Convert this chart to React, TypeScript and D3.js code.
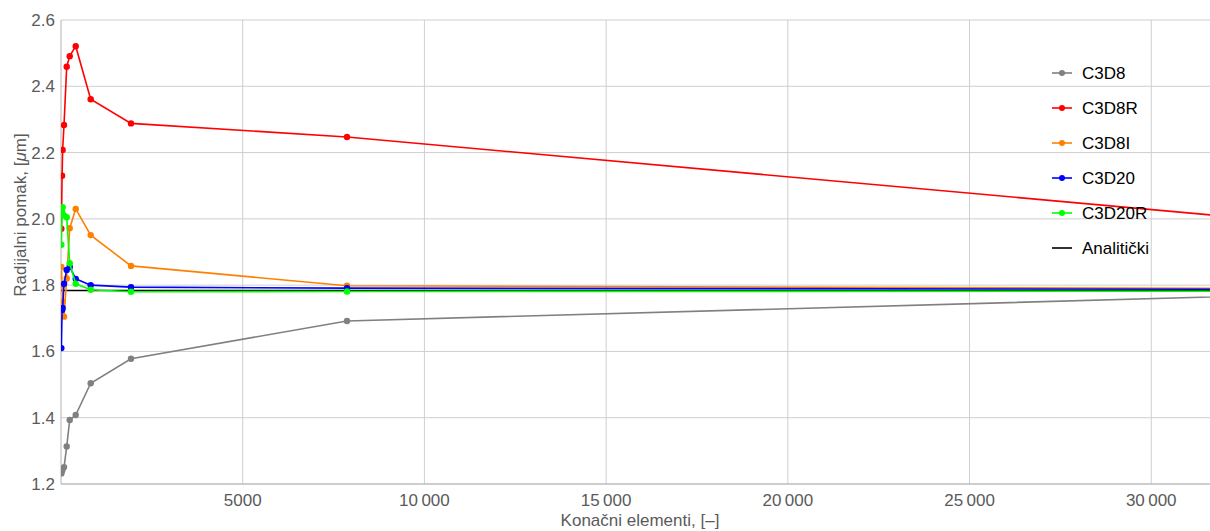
import React from "react";
import * as d3 from "d3";

const elements = [10, 30, 45, 83, 157, 240, 405, 817, 1926, 7870, 50000];

const c3d8 = [1.232, 1.24, 1.245, 1.251, 1.313, 1.393, 1.408, 1.504, 1.578, 1.692, 1.82];
const c3d8r = [1.97, 2.13, 2.208, 2.283, 2.459, 2.491, 2.521, 2.361, 2.288, 2.247, 1.83];
const c3d8i = [1.855, 1.8, 1.75, 1.705, 1.82, 1.972, 2.03, 1.951, 1.858, 1.798, 1.784];
const c3d20 = [1.61, 1.725, 1.731, 1.804, 1.846, 1.855, 1.819, 1.8, 1.794, 1.791, 1.785];
const c3d20r = [1.922, 2.02, 2.035, 2.01, 2.005, 1.866, 1.804, 1.786, 1.78, 1.781, 1.782];
const analyticX = [0, 50000];
const analyticY = [1.784, 1.784];

const seriesNames = ["C3D8", "C3D8R", "C3D8I", "C3D20", "C3D20R"];
const seriesValues = [c3d8, c3d8r, c3d8i, c3d20, c3d20r];
const seriesColors = ["#808080", "#ff0000", "#ff8000", "#0000ff", "#00ff00"];
const analyticName = "Analitički";

const xTicks = [5000, 10000, 15000, 20000, 25000, 30000];
const yTicks = [1.2, 1.4, 1.6, 1.8, 2.0, 2.2, 2.4, 2.6];

const W = 1210;
const H = 531;
const left = 61;
const right = 1210;
const top = 20;
const bottom = 484;

export default function App() {
  const x = d3.scaleLinear().domain([0, 31617]).range([left, right]);
  const y = d3.scaleLinear().domain([1.2, 2.6]).range([bottom, top]);
  const line = d3
    .line<[number, number]>()
    .x((d) => x(d[0]))
    .y((d) => y(d[1]));
  const fmtX = (d: number) =>
    d >= 10000 ? d3.format(",")(d).replace(",", "\u2009") : String(d);
  const fmtY = d3.format(".1f");
  const font = "'Liberation Sans', Arial, sans-serif";
  const tickColor = "#5a5a5a";

  return (
    <svg
      width={W}
      height={H}
      style={{ position: "fixed", left: 0, top: 0, background: "#fff" }}
      fontFamily={font}
    >
      <defs>
        <clipPath id="plotclip">
          <rect x={left} y={0} width={right - left} height={bottom} />
        </clipPath>
      </defs>
      {xTicks.map((t) => (
        <line key={"gx" + t} x1={x(t)} x2={x(t)} y1={top} y2={bottom} stroke="#cfcfcf" strokeWidth={1} />
      ))}
      {yTicks.map((t) => (
        <line key={"gy" + t} x1={left} x2={right} y1={y(t)} y2={y(t)} stroke="#cfcfcf" strokeWidth={1} />
      ))}
      <line x1={left} x2={left} y1={top} y2={bottom} stroke="#b4b4b4" strokeWidth={1} />
      <line x1={left} x2={right} y1={bottom} y2={bottom} stroke="#b4b4b4" strokeWidth={1} />
      {yTicks.map((t) => (
        <text key={"ty" + t} x={left - 6} y={y(t)} dy="0.35em" textAnchor="end" fontSize={17} fill={tickColor}>
          {fmtY(t)}
        </text>
      ))}
      {xTicks.map((t) => (
        <text key={"tx" + t} x={x(t)} y={bottom + 22} textAnchor="middle" fontSize={17} fill={tickColor}>
          {fmtX(t)}
        </text>
      ))}
      <text x={640} y={526} textAnchor="middle" fontSize={17} fill={tickColor}>
        Konačni elementi, [–]
      </text>
      <text
        transform={`translate(26, ${215}) rotate(-90)`}
        textAnchor="middle"
        fontSize={17}
        fill={tickColor}
      >
        Radijalni pomak, [<tspan fontStyle="italic">μ</tspan>m]
      </text>
      <g clipPath="url(#plotclip)">
        <path
          d={line(analyticX.map((v, i) => [v, analyticY[i]]) as [number, number][]) || ""}
          fill="none"
          stroke="#000"
          strokeWidth={1.6}
        />
        {seriesValues.map((vals, si) => {
          const pts = elements.map((e, i) => [e, vals[i]] as [number, number]);
          return (
            <g key={"s" + si}>
              <path d={line(pts) || ""} fill="none" stroke={seriesColors[si]} strokeWidth={1.6} />
              {pts.map((p, i) => (
                <circle key={i} cx={x(p[0])} cy={y(p[1])} r={3.2} fill={seriesColors[si]} />
              ))}
            </g>
          );
        })}
      </g>
      {seriesNames.map((n, i) => {
        const ly = 73 + i * 35;
        return (
          <g key={"l" + n}>
            <line x1={1052} x2={1072} y1={ly} y2={ly} stroke={seriesColors[i]} strokeWidth={1.6} />
            <circle cx={1062} cy={ly} r={3} fill={seriesColors[i]} />
            <text x={1082} y={ly} dy="0.35em" fontSize={17} fill="#000">
              {n}
            </text>
          </g>
        );
      })}
      <g>
        <line x1={1052} x2={1072} y1={73 + 5 * 35} y2={73 + 5 * 35} stroke="#000" strokeWidth={1.6} />
        <text x={1082} y={73 + 5 * 35} dy="0.35em" fontSize={17} fill="#000">
          {analyticName}
        </text>
      </g>
    </svg>
  );
}
